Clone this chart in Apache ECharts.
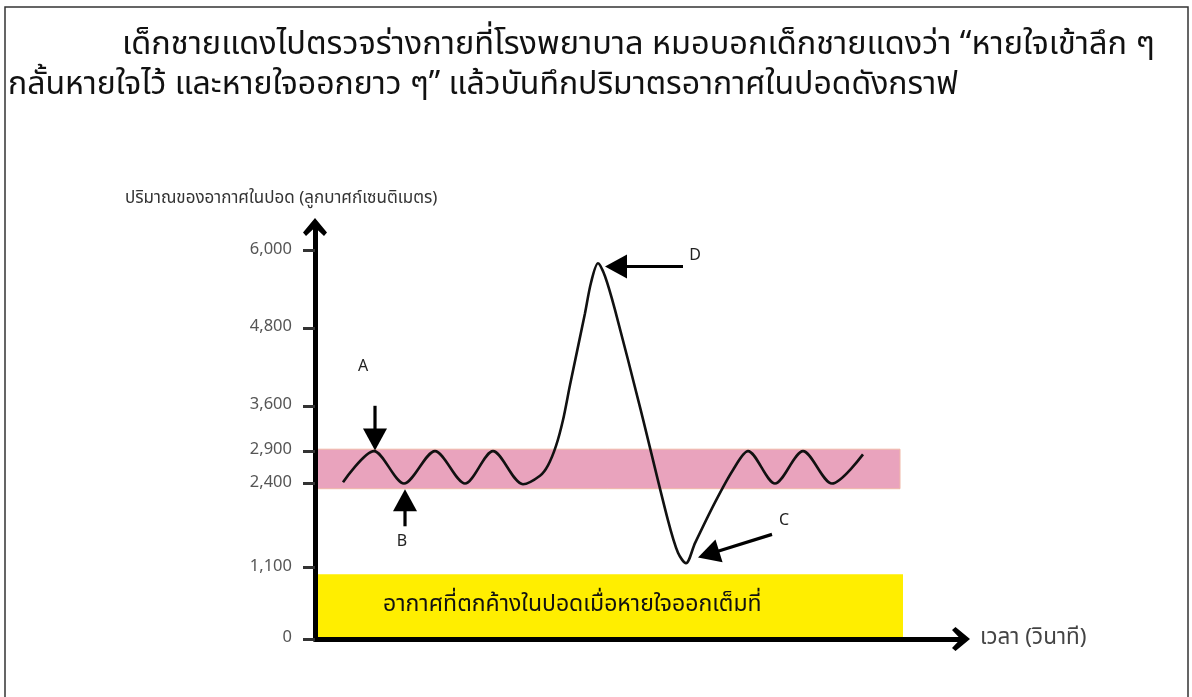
<!DOCTYPE html>
<html>
<head>
<meta charset="utf-8">
<script src="https://cdn.jsdelivr.net/npm/echarts@6.0.0/dist/echarts.min.js"></script>
<style>
  html, body { margin: 0; padding: 0; background: #ffffff; }
  #chart { width: 1192px; height: 697px; }
</style>
</head>
<body>
<div id="chart"></div>
<script>
// ---- data ----
const titleLine1 = 'เด็กชายแดงไปตรวจร่างกายที่โรงพยาบาล หมอบอกเด็กชายแดงว่า “หายใจเข้าลึก ๆ';
const titleLine2 = 'กลั้นหายใจไว้ และหายใจออกยาว ๆ” แล้วบันทึกปริมาตรอากาศในปอดดังกราฟ';
const yAxisTitle = 'ปริมาณของอากาศในปอด (ลูกบาศก์เซนติเมตร)';
const xAxisTitle = 'เวลา (วินาที)';
const residualText = 'อากาศที่ตกค้างในปอดเมื่อหายใจออกเต็มที่';

const yTickValues = [0, 1100, 2400, 2900, 3600, 4800, 6000];

// time (arbitrary seconds along the x axis) and lung volume (cm3)
const timeSec = [2.8, 5.9, 8.9, 12.0, 15.0, 17.8, 20.8, 22.5, 23.3, 24.1, 24.8, 25.5, 27.0, 27.6, 28.3,
                 29.0, 30.0, 32.5, 35.3, 36.3, 37.1, 38.0, 40.0, 41.8, 43.3, 46.0, 48.8, 51.7, 54.8];
const volume  = [2420, 2900, 2400, 2900, 2400, 2900, 2390, 2520, 2680, 2980, 3380, 3920, 5030, 5500, 5800,
                 5600, 5080, 3580, 1830, 1330, 1170, 1480, 2110, 2610, 2900, 2400, 2900, 2400, 2850];

// normal tidal breathing band and residual volume block
const tidalBand = [2320, 2930];
const tidalBandEnd = 58.5;
const residualVolume = 1000;
const residualEnd = 58.8;

// annotation arrows: label, tail point, tip point, label point (time, volume)
const annLabels = ['A', 'B', 'C', 'D'];
const annTail   = [[6.0, 3600], [9.0, 1740], [45.7, 1615], [36.8, 5750]];
const annTip    = [[6.0, 2910], [9.0, 2310], [38.3, 1260], [29.0, 5750]];
const annText   = [[4.8, 4180], [8.7, 1490], [46.9, 1817], [38.0, 5900]];

// ---- chart ----
const FONT = "'Noto Sans Thai', 'Noto Sans Thai UI', 'Noto Sans', 'DejaVu Sans', sans-serif";
const chart = echarts.init(document.getElementById('chart'), null, { renderer: 'canvas' });

const curveData = timeSec.map((t, i) => [t, volume[i]]);
const annData = annLabels.map((l, i) => [annTail[i][0], annTail[i][1], annTip[i][0], annTip[i][1], annText[i][0], annText[i][1]]);

const chevron = 'path://M0,14.5 L12,0 L24,14.5 L21,18 L12,9.5 L3,18 Z';

const option = {
  backgroundColor: '#ffffff',
  animation: false,
  grid: { left: 315, right: 231, top: 227, bottom: 58, outerBoundsMode: 'none', containLabel: false },
  graphic: [
    { type: 'rect', shape: { x: 5, y: 7, width: 1183, height: 700 }, style: { fill: 'none', stroke: '#333', lineWidth: 1.5 }, silent: true },
    { type: 'text', x: 122, y: 47, style: { text: titleLine1, font: '32.5px ' + FONT, fill: '#111', verticalAlign: 'middle' } },
    { type: 'text', x: 8, y: 88, style: { text: titleLine2, font: '32px ' + FONT, fill: '#111', verticalAlign: 'middle' } },
    { type: 'text', x: 125, y: 200, style: { text: yAxisTitle, font: '17px ' + FONT, fill: '#333', verticalAlign: 'middle' } }
  ],
  xAxis: {
    type: 'value', min: 0, max: 64.6, z: 5,
    name: xAxisTitle, nameLocation: 'end', nameGap: 19,
    nameTextStyle: { fontSize: 22.5, color: '#444', fontFamily: FONT, verticalAlign: 'middle' },
    axisLine: { show: true, onZero: false, symbol: ['none', chevron], symbolSize: [24, 18], lineStyle: { color: '#000', width: 5 } },
    axisTick: { show: false }, axisLabel: { show: false }, splitLine: { show: false }
  },
  yAxis: {
    type: 'value', min: 0, max: 6360, z: 5,
    axisLine: { show: true, onZero: false, symbol: ['none', chevron], symbolSize: [24, 18], lineStyle: { color: '#000', width: 5 } },
    axisTick: { show: true, customValues: yTickValues, length: 12, lineStyle: { color: '#333', width: 3 } },
    axisLabel: { show: true, customValues: yTickValues, margin: 23, fontSize: 16.5, color: '#555', fontFamily: FONT,
                 formatter: v => Number(v).toLocaleString('en-US') },
    splitLine: { show: false }
  },
  series: [
    {
      type: 'line', z: 3, data: curveData, smooth: 0.3, symbol: 'none',
      lineStyle: { color: '#111', width: 2.6 },
      markArea: {
        silent: true,
        data: [
          [ { xAxis: 0, yAxis: tidalBand[0], itemStyle: { color: '#e9a3bd', borderColor: '#f0b8a8', borderWidth: 1 } },
            { xAxis: tidalBandEnd, yAxis: tidalBand[1] } ],
          [ { xAxis: 0, yAxis: 0, itemStyle: { color: '#ffee00' },
              label: { show: true, position: 'insideLeft', distance: 68, formatter: residualText,
                       fontSize: 23, color: '#111', fontFamily: FONT } },
            { xAxis: residualEnd, yAxis: residualVolume } ]
        ]
      }
    },
    {
      type: 'custom', z: 4, clip: false, data: annData,
      encode: { x: [0, 2, 4], y: [1, 3, 5] },
      renderItem: function (params, api) {
        const p1 = api.coord([api.value(0), api.value(1)]);
        const p2 = api.coord([api.value(2), api.value(3)]);
        const lp = api.coord([api.value(4), api.value(5)]);
        const dx = p2[0] - p1[0], dy = p2[1] - p1[1];
        const len = Math.hypot(dx, dy) || 1;
        const ux = dx / len, uy = dy / len;
        const headLen = 22, half = 12;
        const bx = p2[0] - ux * headLen, by = p2[1] - uy * headLen;
        return {
          type: 'group',
          children: [
            { type: 'line', shape: { x1: p1[0], y1: p1[1], x2: bx + ux * 2, y2: by + uy * 2 }, style: { stroke: '#000', lineWidth: 3.2 } },
            { type: 'polygon', shape: { points: [[p2[0], p2[1]], [bx - uy * half, by + ux * half], [bx + uy * half, by - ux * half]] }, style: { fill: '#000' } },
            { type: 'text', x: lp[0], y: lp[1], style: { text: annLabels[params.dataIndex], font: '16px ' + FONT, fill: '#222', align: 'center', verticalAlign: 'middle' } }
          ]
        };
      }
    }
  ]
};
chart.setOption(option);
</script>
</body>
</html>
